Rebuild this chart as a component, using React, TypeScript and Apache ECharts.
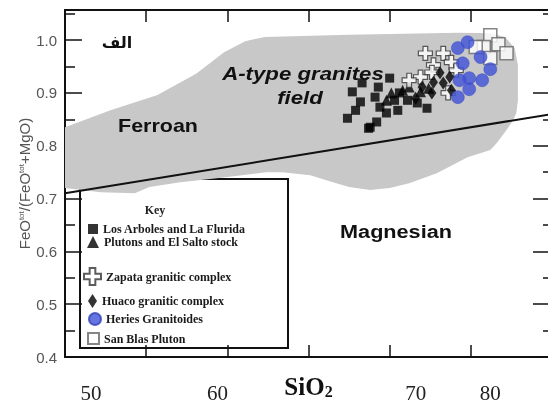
import React, { useEffect, useRef } from "react";
import * as echarts from "echarts";

// ---- data (SiO2 wt%, FeOtot/(FeOtot+MgO)) ----
const xTickLabelTexts = ["50", "60", "70", "80"];
const xTickLabelAt = [51.6, 59.4, 71.6, 76.2];
const boundaryLine = [
  [50, 0.71],
  [80, 0.86],
];
const aTypeField = [
  [50, 0.835], [52.8, 0.867], [55.7, 0.896], [58.1, 0.937], [59.8, 0.977], [61.1, 0.998],
  [62.3, 1.006], [67.5, 1.01], [74.3, 1.014], [76.2, 1.013], [77.1, 1.006], [77.7, 0.985],
  [77.9, 0.953], [77.9, 0.886], [77.8, 0.862], [77.6, 0.848], [77.2, 0.83], [76.6, 0.805],
  [76.2, 0.792], [74.8, 0.778], [72.9, 0.748], [71.2, 0.729], [70.0, 0.72], [68.8, 0.716],
  [67.5, 0.722], [66.5, 0.731], [65.1, 0.744], [63.4, 0.75], [62.4, 0.75], [59.5, 0.739],
  [57.1, 0.731], [55.2, 0.722], [54.3, 0.71], [52.2, 0.712], [50, 0.72],
];
const losArboles = [
  [67.7, 0.902], [68.2, 0.883], [67.4, 0.852], [69.3, 0.911], [70.0, 0.928], [69.1, 0.892],
  [69.4, 0.873], [69.8, 0.862], [68.8, 0.835], [69.2, 0.845], [70.5, 0.867], [70.3, 0.886],
  [71.7, 0.881], [72.3, 0.871], [68.3, 0.919], [68.7, 0.833], [70.6, 0.9], [71.1, 0.886],
  [67.9, 0.867],
];
const plutonsElSalto = [
  [70.1, 0.9], [70.8, 0.905], [71.2, 0.911], [71.9, 0.902], [69.8, 0.886], [72.4, 0.909],
];
const zapata = [
  [72.2, 0.975], [73.3, 0.975], [72.7, 0.953], [73.8, 0.958], [71.9, 0.93], [72.6, 0.939],
  [74.1, 0.943], [73.6, 0.9], [71.2, 0.924],
];
const huaco = [
  [72.0, 0.911], [72.7, 0.92], [72.6, 0.9], [73.3, 0.919], [73.7, 0.93], [73.8, 0.905],
  [73.1, 0.938], [71.6, 0.89],
];
const heries = [
  [74.2, 0.985], [74.8, 0.996], [75.6, 0.968], [74.5, 0.956], [76.2, 0.945], [75.7, 0.924],
  [74.9, 0.928], [74.3, 0.924], [74.9, 0.907], [74.2, 0.892],
];
const sanBlas = [
  [76.2, 1.009], [76.7, 0.992], [75.8, 0.987], [77.2, 0.975], [76.2, 0.966], [75.3, 0.987],
];
const seriesNames = [
  "Los Arboles and La Flurida",
  "Plutons and El Salto stock",
  "Zapata granitic complex",
  "Huaco granitic complex",
  "Heries Granitoides",
  "San Blas Pluton",
];
const fieldLabels = ["Ferroan", "Magnesian", "A-type granites", "field", "الف", "Key"];

const crossPath = "path://M4,0 L8,0 L8,4 L12,4 L12,8 L8,8 L8,12 L4,12 L4,8 L0,8 L0,4 L4,4 Z";

export default function App() {
  const ref = useRef<HTMLDivElement>(null);
  useEffect(() => {
    if (!ref.current) return;
    const chart = echarts.init(ref.current, null, { renderer: "svg" });
    const sans = "Liberation Sans";
    const serif = "Liberation Serif";
    const legendText = { fontFamily: serif, fontWeight: "bold", fontSize: 12, lineHeight: 12, color: "#1a1a1a" };
    const legendRows = [
      { top: 223, left: 88, w: 10, h: 10 },
      { top: 236, left: 87, w: 12, h: 12 },
      { top: 267, left: 83, w: 17, h: 17 },
      { top: 294, left: 88, w: 9, h: 14 },
      { top: 312, left: 88, w: 12, h: 12 },
      { top: 332, left: 87, w: 11, h: 11 },
    ];
    const option: any = {
      animation: false,
      grid: { left: 65, top: 10, width: 487, height: 347, containLabel: false, outerBoundsMode: "none" },
      xAxis: [
        {
          type: "value",
          min: 50,
          max: 80,
          interval: 5,
          position: "bottom",
          axisLine: { lineStyle: { color: "#111", width: 2 } },
          axisTick: { inside: true, length: 12, lineStyle: { color: "#111", width: 1.5 } },
          splitLine: { show: false },
          axisLabel: {
            customValues: xTickLabelAt,
            formatter: (v: number) => {
              const i = xTickLabelAt.indexOf(v);
              return i >= 0 ? xTickLabelTexts[i] : "";
            },
            fontFamily: serif,
            fontSize: 21,
            color: "#222",
            margin: 25,
          },
          name: "{a|SiO}{b|2}",
          nameLocation: "middle",
          nameGap: 16,
          nameMoveOverlap: false,
          nameTextStyle: {
            rich: {
              a: { fontFamily: serif, fontWeight: "bold", fontSize: 25, color: "#111", lineHeight: 26 },
              b: { fontFamily: serif, fontWeight: "bold", fontSize: 16, color: "#111", lineHeight: 14, verticalAlign: "bottom" },
            },
          },
        },
        {
          type: "value",
          min: 50,
          max: 80,
          interval: 5,
          position: "top",
          axisLine: { lineStyle: { color: "#111", width: 2 } },
          axisTick: { inside: true, length: 12, lineStyle: { color: "#111", width: 1.5 } },
          splitLine: { show: false },
          axisLabel: { show: false },
        },
      ],
      yAxis: [
        {
          type: "value",
          min: 0.4,
          max: 1.057,
          interval: 0.1,
          position: "left",
          axisLine: { lineStyle: { color: "#111", width: 2 } },
          axisTick: { inside: true, length: 17, lineStyle: { color: "#111", width: 1.5 } },
          minorTick: { show: true, splitNumber: 2, length: 10, lineStyle: { color: "#111", width: 1.5 } },
          splitLine: { show: false },
          axisLabel: {
            showMaxLabel: false,
            formatter: (v: number) => v.toFixed(1),
            fontFamily: sans,
            fontSize: 15,
            color: "#555",
            margin: 8,
          },
          name: "FeO{s|tot}/(FeO{s|tot}+MgO)",
          nameLocation: "middle",
          nameGap: 33,
          nameMoveOverlap: false,
          nameTextStyle: {
            fontFamily: sans,
            fontSize: 15,
            color: "#555",
            rich: {
              s: { fontFamily: sans, fontSize: 8, color: "#555", verticalAlign: "top", lineHeight: 8 },
            },
          },
        },
        {
          type: "value",
          min: 0.4,
          max: 1.057,
          interval: 0.1,
          position: "right",
          axisLine: { lineStyle: { color: "#111", width: 2 } },
          axisTick: { inside: true, length: 19, lineStyle: { color: "#111", width: 1.5 } },
          minorTick: { show: true, splitNumber: 2, length: 9, lineStyle: { color: "#111", width: 1.5 } },
          splitLine: { show: false },
          axisLabel: { show: false },
        },
      ],
      legend: seriesNames.map((n, i) => ({
        data: [n],
        left: legendRows[i].left,
        top: legendRows[i].top,
        itemWidth: legendRows[i].w,
        itemHeight: legendRows[i].h,
        padding: 0,
        selectedMode: false,
        textStyle: legendText,
        z: 20,
      })),
      graphic: [
        {
          type: "rect",
          z: 0,
          shape: { x: 80, y: 179, width: 208, height: 169 },
          style: { fill: "#fff", stroke: "#111", lineWidth: 2 },
        },
        {
          type: "text",
          z: 50,
          x: 155,
          y: 210,
          style: { text: fieldLabels[5], fontFamily: serif, fontWeight: "bold", fontSize: 12, fill: "#222", align: "center", verticalAlign: "middle" },
        },
        {
          type: "text",
          z: 50,
          x: 158,
          y: 125,
          scaleX: 1.13,
          style: { text: fieldLabels[0], fontFamily: sans, fontWeight: "bold", fontSize: 19, fill: "#111", align: "center", verticalAlign: "middle" },
        },
        {
          type: "text",
          z: 50,
          x: 396,
          y: 231,
          scaleX: 1.14,
          style: { text: fieldLabels[1], fontFamily: sans, fontWeight: "bold", fontSize: 19, fill: "#111", align: "center", verticalAlign: "middle" },
        },
        {
          type: "text",
          z: 50,
          x: 303,
          y: 73,
          scaleX: 1.17,
          style: { text: fieldLabels[2], fontFamily: sans, fontWeight: "bold", fontStyle: "italic", fontSize: 19, fill: "#111", align: "center", verticalAlign: "middle" },
        },
        {
          type: "text",
          z: 50,
          x: 300,
          y: 97,
          scaleX: 1.17,
          style: { text: fieldLabels[3], fontFamily: sans, fontWeight: "bold", fontStyle: "italic", fontSize: 19, fill: "#111", align: "center", verticalAlign: "middle" },
        },
        {
          type: "text",
          z: 50,
          x: 117,
          y: 42,
          style: { text: fieldLabels[4], fontFamily: "DejaVu Sans", fontWeight: "bold", fontSize: 16, fill: "#111", align: "center", verticalAlign: "middle" },
        },
      ],
      series: [
        {
          type: "custom",
          name: "A-type field",
          xAxisIndex: 0,
          yAxisIndex: 0,
          z: 1,
          silent: true,
          data: aTypeField,
          renderItem: (params: any, api: any) => {
            if (params.dataIndex !== 0) return null;
            const pts = aTypeField.map((p) => api.coord(p));
            return { type: "polygon", shape: { points: pts }, style: { fill: "#c8c8c8" } };
          },
        },
        {
          type: "line",
          name: "boundary",
          data: boundaryLine,
          symbol: "none",
          z: 3,
          lineStyle: { color: "#111", width: 2 },
        },
        {
          type: "scatter",
          name: seriesNames[0],
          data: losArboles,
          symbol: "rect",
          symbolSize: 9,
          itemStyle: { color: "#000" },
          z: 4,
        },
        {
          type: "scatter",
          name: seriesNames[1],
          data: plutonsElSalto,
          symbol: "triangle",
          symbolSize: 11,
          itemStyle: { color: "#000" },
          z: 5,
        },
        {
          type: "scatter",
          name: seriesNames[2],
          data: zapata,
          symbol: crossPath,
          symbolSize: 14,
          itemStyle: { color: "#fff", borderColor: "#333", borderWidth: 1.2 },
          z: 6,
        },
        {
          type: "scatter",
          name: seriesNames[3],
          data: huaco,
          symbol: "diamond",
          symbolSize: [9, 13],
          itemStyle: { color: "#000" },
          z: 7,
        },
        {
          type: "scatter",
          name: seriesNames[5],
          data: sanBlas,
          symbol: "rect",
          symbolSize: 13,
          itemStyle: { color: "#fff", borderColor: "#666", borderWidth: 1.5 },
          z: 8,
        },
        {
          type: "scatter",
          name: seriesNames[4],
          data: heries,
          symbol: "circle",
          symbolSize: 13,
          itemStyle: { color: "#3f51d6", borderColor: "#3344bb", borderWidth: 0.5 },
          z: 9,
        },
      ],
    };
    chart.setOption(option);
    return () => chart.dispose();
  }, []);
  return <div ref={ref} style={{ position: "fixed", left: 0, top: 0, width: 548, height: 405 }} />;
}
